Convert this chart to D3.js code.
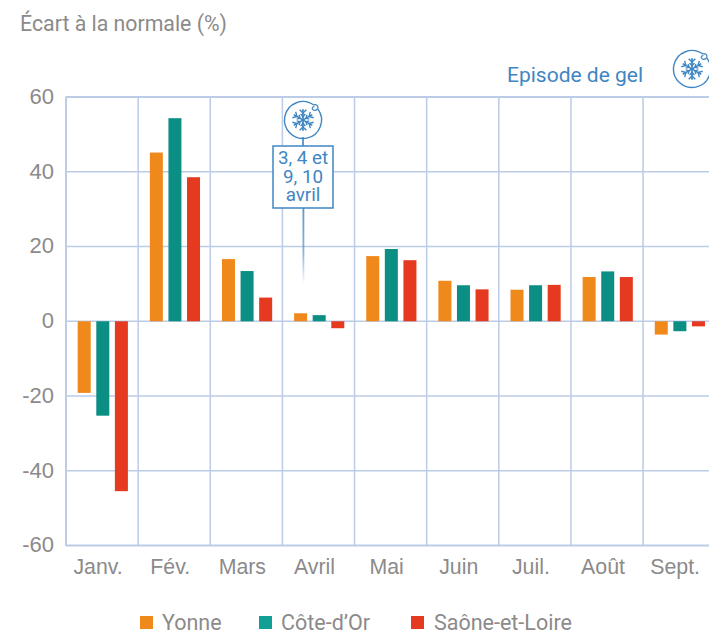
<!DOCTYPE html>
<html><head><meta charset="utf-8">
<script src="https://cdn.jsdelivr.net/npm/d3@7"></script>
<style>
html,body{margin:0;padding:0;background:#fff;overflow:hidden}
svg{display:block;font-family:Roboto,sans-serif}
</style></head><body>
<svg id="c" width="709" height="634"></svg>
<script>
const months = ["Janv.","Fév.","Mars","Avril","Mai","Juin","Juil.","Août","Sept."];
const seriesNames = ["Yonne","Côte-d’Or","Saône-et-Loire"];
const yonne = [-19.3,45,16.5,2,17.3,10.7,8.3,11.7,-3.7];
const coteDOr = [-25.4,54.2,13.3,1.5,19.2,9.5,9.5,13.2,-2.8];
const saone = [-45.6,38.4,6.2,-2,16.2,8.4,9.6,11.7,-1.5];
const colors = ["#f0891c","#0b8f85","#e63a20"];
const yTicks = [-60,-40,-20,0,20,40,60];
const values = [yonne,coteDOr,saone];

const svg = d3.select("#c");
const grid = "#bccbe6", textCol = "#8c8a8a", blue = "#3f86c2";
const x = d3.scaleBand().domain(months).range([66,715.2]);
const y = d3.scaleLinear().domain([-60,60]).range([545,96.5]);
const inner = d3.scaleBand().domain([0,1,2]).range([11.7,61.9]).paddingInner(0.3).paddingOuter(0);

// Title
svg.append("text").attr("x",20).attr("y",31).attr("font-size",21.3).attr("fill",textCol).text("Écart à la normale (%)");

// Y axis + horizontal grid
const yAxis = svg.append("g").attr("transform","translate(66,0)")
  .call(d3.axisLeft(y).tickValues(yTicks).tickSize(-650).tickPadding(12).tickFormat(d3.format("d")));
yAxis.select(".domain").remove();
yAxis.selectAll("line").attr("stroke",grid).attr("stroke-width",d=>(d===60||d===-60)?2:1.5);
yAxis.selectAll("text").attr("font-size",22).attr("fill",textCol).attr("dy","0.31em")
  .text(d=>String(d));

// Vertical grid
svg.append("g").selectAll("line").data(months.concat([null])).join("line")
  .attr("x1",(d,i)=>x.range()[0]+i*x.step()).attr("x2",(d,i)=>x.range()[0]+i*x.step())
  .attr("y1",y(60)).attr("y2",y(-60)+1).attr("stroke",grid).attr("stroke-width",(d,i)=>i===0?2:1.5);

// X axis labels
const xAxis = svg.append("g").attr("transform","translate(-4,546)")
  .call(d3.axisBottom(x).tickSize(0).tickPadding(12.5));
xAxis.select(".domain").remove();
xAxis.selectAll("text").attr("font-size",21.3).attr("fill",textCol);

// Bars
svg.append("g").selectAll("g").data(values).join("g").attr("fill",(d,i)=>colors[i])
  .each(function(vals,s){
    d3.select(this).selectAll("rect").data(vals).join("rect")
      .attr("x",(d,i)=>x(months[i])+inner(s))
      .attr("width",inner.bandwidth())
      .attr("y",d=>Math.min(y(d),y(0)+0.5))
      .attr("height",d=>Math.abs(y(d)-y(0)-0.5));
  });

// Snowflake icon
function flake(cx,cy,r){
  const g = svg.append("g").attr("transform",`translate(${cx},${cy})`)
    .attr("fill","none").attr("stroke",blue);
  g.append("path").attr("stroke-width",1.4).attr("fill","#fff")
    .attr("d",d3.arc()({innerRadius:r,outerRadius:r,startAngle:Math.PI*0.3,endAngle:Math.PI*2.2}));
  g.append("path").attr("stroke-width",1.2)
    .attr("d",`M${r*0.57},${-r*0.82} C${r*0.9},${-r*0.88} ${r*0.86},${-r*0.5} ${r*0.62},${-r*0.52} C${r*0.44},${-r*0.56} ${r*0.48},${-r*0.74} ${r*0.62},${-r*0.72}`);
  for(let k=0;k<3;k++){
    g.append("line").attr("x1",0).attr("x2",0).attr("y1",-r*0.58).attr("y2",r*0.58)
      .attr("stroke-width",1.7).attr("transform",`rotate(${k*60})`);
  }
  for(let k=0;k<6;k++){
    const a = g.append("g").attr("transform",`rotate(${k*60})`).attr("stroke-width",1.4);
    a.append("path").attr("d",`M${-r*0.18},${-r*0.56} L0,${-r*0.38} L${r*0.18},${-r*0.56}`);
    a.append("path").attr("d",`M${-r*0.13},${-r*0.32} L0,${-r*0.18} L${r*0.13},${-r*0.32}`);
  }
}

// Callout stem
const defs = svg.append("defs");
const lg = defs.append("linearGradient").attr("id","stem").attr("x1",0).attr("x2",0).attr("y1",0).attr("y2",1);
lg.append("stop").attr("offset",0).attr("stop-color",blue).attr("stop-opacity",0.85);
lg.append("stop").attr("offset",0.6).attr("stop-color",blue).attr("stop-opacity",0.6);
lg.append("stop").attr("offset",1).attr("stop-color",blue).attr("stop-opacity",0);
svg.append("rect").attr("x",302.5).attr("y",208).attr("width",1.8).attr("height",76).attr("fill","url(#stem)");
svg.append("line").attr("x1",303).attr("x2",303).attr("y1",137).attr("y2",146).attr("stroke",blue).attr("stroke-width",1.6);
svg.append("rect").attr("x",273).attr("y",146).attr("width",60).attr("height",62).attr("fill","#fff").attr("stroke",blue).attr("stroke-width",1.5);
flake(303,120,18.5);
const callout = ["3, 4 et","9, 10","avril"];
svg.append("g").selectAll("text").data(callout).join("text")
  .attr("x",303).attr("y",(d,i)=>164+i*18.7).attr("text-anchor","middle").attr("font-size",18.8).attr("fill",blue).text(d=>d);

// Top legend
svg.append("text").attr("x",507).attr("y",82).attr("font-size",21).attr("fill",blue).text("Episode de gel");
flake(692,69,18.5);

// Legend
const legendX = [140,259,411], legendText = [162,281,434];
const leg = svg.append("g").selectAll("g").data(seriesNames).join("g");
leg.append("rect").attr("x",(d,i)=>legendX[i]).attr("y",616).attr("width",13).attr("height",13).attr("fill",(d,i)=>["#f0891c","#12a096","#e63a20"][i]);
leg.append("text").attr("x",(d,i)=>legendText[i]).attr("y",630).attr("font-size",21.5).attr("fill",textCol).text(d=>d);
</script>
</body></html>
